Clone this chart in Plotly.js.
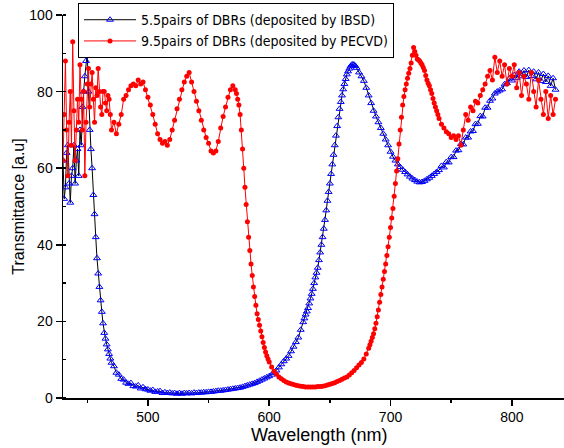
<!DOCTYPE html>
<html><head><meta charset="utf-8">
<script src="https://cdn.plot.ly/plotly-3.0.1.min.js"></script>
<style>html,body{margin:0;padding:0;background:#fff;}#chart{width:564px;height:448px;}</style>
</head><body><div id="chart"></div>
<script>
const ibsdWavelength = [430,431,432,433,434,435,436,437,438,439,440,441,442,443,444,445,446,447,448,449,450,451,452,453,454,455,456,457,458,459,460,461,462,463,464,465,466,467,468,469,470,
472,474,476,478,480,482,484,486,488,490,492,494,496,498,500,502,504,506,508,510,512,514,516,518,520,522,524,526,528,530,532,534,536,538,540,542,544,546,548,550,552,554,556,558,560,562,564,566,568,570,572,574,576,578,580,582,584,586,588,590,592,594,596,598,600,602,604,606,608,610,612,614,616,618,620,622,624,626,628,
629,630,631,632,633,634,635,636,637,638,639,640,641,642,643,644,645,646,647,648,649,650,651,652,653,654,655,656,657,658,659,660,661,662,663,664,665,666,667,668,669,670,671,672,
674,676,678,680,682,684,686,688,690,692,694,696,698,700,702,704,706,708,710,712,714,716,718,720,722,724,726,728,730,732,734,736,738,740,742,744,746,748,750,752,754,756,758,760,762,764,766,768,770,772,774,776,778,780,782,784,786,788,790,792,794,796,798,800,802,804,806,808,810,812,814,816,818,820,822,824,826,828,830,832,834,836];

const ibsdTransmittance = [62,52,55,64,66,56,51,58,60,66,56,62,65,58,70,66,76,80,84,88,90,80,70,65,60,53,48,42,36.5,32.5,29,25.5,22.5,19.5,17,15.5,14,12.7,11.5,10.3,9.2,
8.3,6.6,6.1,5,4.8,4,3.7,3.9,3.1,3.0,3.3,2.5,2.8,2.3,2.2,1.9,2.1,1.6,1.7,1.8,1.3,1.5,1.3,1.4,1.2,1.3,1.1,1.3,1.1,1.3,1.2,1.3,1.2,1.4,1.3,1.4,1.4,1.5,1.5,1.6,1.6,1.7,1.8,1.9,1.9,2.0,2.1,2.2,2.3,2.4,2.5,2.6,2.7,2.9,3.1,3.3,3.5,3.7,3.9,4.2,4.5,4.8,5.1,5.4,5.7,6.1,6.6,7.2,8.0,8.8,9.6,10.3,11.0,12.2,13.4,14.6,15.8,17.8,19.8,
20.8,21.8,22.6,23.5,24.7,26,27.2,28.5,30,31.5,32.7,34,36,38,40,42,44.2,46.5,49,51.5,53.8,56,58.5,61,63.5,66,68.5,71,73.3,75.5,77.3,79,80.6,82,83.3,84.5,85.3,86,86.6,87,87.1,87,86.7,86.2,
85,84,82.8,81,79,77,75,73.5,72,70.5,69,67.5,66,64.3,63,62,61,60.3,59.6,59,58.4,57.8,57.3,56.9,56.5,56.3,56.4,56.7,57.1,57.5,58,58.5,59,59.5,60.6,60.2,61.6,61.5,62.9,62.9,64.6,64.7,66.3,66.2,68,68,69.6,69.7,71.5,71.6,73.6,73.5,75.8,75.8,77.6,78.2,79.5,80,80.3,80.6,81.9,82.2,83.4,82.9,84.3,83.6,85.2,84,85.5,83.8,85.6,84.1,85.2,83.2,85,82.8,84.6,82.5,84.1,81.5,83.5,80.5,82.7];

const pecvdWavelength = [430,431,432,433,434,435,436,437,438,439,440,441,442,443,444,445,446,447,448,449,450,451,452,453,454,455,456,457,458,459,460,461,462,463,464,465,466,467,468,469,470,
472,474,476,478,480,482,484,486,488,490,492,494,496,498,500,502,504,506,508,510,512,514,516,518,520,522,524,526,528,530,532,534,536,538,540,542,544,546,548,550,552,554,556,558,560,562,564,566,568,570,572,
573,574,575,576,577,578,579,580,581,582,583,584,585,586,587,588,589,590,591,592,593,594,595,596,597,598,599,600,
602,604,606,608,610,612,614,616,618,620,622,624,626,628,630,632,634,636,638,640,642,644,646,648,650,652,654,656,658,660,662,664,666,668,670,672,674,676,678,680,682,
683,684,685,686,687,688,689,690,691,692,693,694,695,696,697,698,699,700,701,702,703,704,705,706,707,708,709,710,711,712,713,714,715,716,717,718,719,720,721,722,723,724,725,726,727,728,729,730,731,732,733,734,735,736,737,738,739,740,
742,744,746,748,750,752,754,756,758,760,762,764,766,768,770,772,774,776,778,780,782,784,786,788,790,792,794,796,798,800,802,804,806,808,810,812,814,816,818,820,822,824,826,828,830,832,834,836];

const pecvdTransmittance = [62,74,88,70,58,72,80,66,93,75,62,70,78,72,87,78,70,80,58,72,82,86,76,82,85,78,72,81,79,86,80,76,74,80,80,77,75,79,78,74,70,
72,69,71.5,74,78,79,80.5,81.5,82,81.5,83,82,82.5,80.5,78.5,76.5,74,71.5,69,67.5,66.5,67,66,67.5,70,72.5,75.5,78,80.5,82.5,84,85,82.5,80,77.5,75,72.5,70,68,66.5,64.5,64,64.5,67,70.5,73.5,76,78.5,80.5,81.5,80.5,
79.5,78,76.5,74,70,65,60,55,50.5,46,42,38.5,35,32,29,26.5,24.2,22,20.5,19,17.5,16,14.5,13.2,12,11,10.2,9.4,
8.1,7,6.2,5.5,5,4.6,4.2,3.9,3.7,3.5,3.3,3.2,3.1,3,2.9,2.9,2.9,2.9,2.9,3,3,3.1,3.2,3.4,3.6,3.8,4.0,4.3,4.6,4.9,5.2,5.5,6,6.6,7.2,7.9,8.6,9.3,10.2,11.5,13,
13.9,14.8,15.8,16.8,18.1,19.5,21.2,23,25,27,29,31,33,35,37.2,39.5,42,44.5,47,49.5,52.7,56,59.3,62.5,66.3,70,73.3,76.5,78.7,80.5,82,83.5,84.8,86,87.5,89.5,91.5,90.5,89.5,88.5,88.3,88,87.5,87,86.3,85.5,84.2,83,82.2,81.5,80.5,79.5,78.2,77,76,75,74,73,
71.5,70.5,69.5,69,68,68.5,67.5,68.5,66,70,74,72.5,76,75,77.5,77,79,80.5,82,84,85.5,83,89,85,88,84,87,82,86,84,87,81,85,79,84,82,78,85,80,76,83,78,74,80,73,79,74,78];

const seriesNames = ["5.5pairs of DBRs (deposited by IBSD)", "9.5pairs of DBRs (deposited by PECVD)"];
const xTitle = "Wavelength (nm)";
const yTitle = "Transmittance [a.u]";

const traces = [
  {x: ibsdWavelength, y: ibsdTransmittance, name: seriesNames[0], type: 'scatter', mode: 'lines+markers',
   line: {color: '#000000', width: 1},
   marker: {symbol: 'triangle-up-open', size: 6, color: '#0000ff', line: {width: 1, color: '#0000ff'}}},
  {x: pecvdWavelength, y: pecvdTransmittance, name: seriesNames[1], type: 'scatter', mode: 'lines+markers',
   line: {color: '#ff0000', width: 1},
   marker: {symbol: 'circle', size: 5, color: '#ff0000'}}
];

const axisCommon = {
  showline: true, linecolor: '#000', linewidth: 1.5, mirror: false,
  ticks: 'outside', ticklen: 6, tickwidth: 1.5, tickcolor: '#000',
  showgrid: false, zeroline: false, tickfont: {size: 14, color: '#000'}
};

const layout = {
  width: 564, height: 448,
  margin: {l: 63, r: 0, t: 15, b: 50},
  paper_bgcolor: '#fff', plot_bgcolor: '#fff',
  font: {family: '"Liberation Sans", Arial, sans-serif', size: 14, color: '#000'},
  xaxis: Object.assign({}, axisCommon, {
    range: [430, 843], tick0: 0, dtick: 100,
    minor: {dtick: 50, ticks: 'outside', ticklen: 3, tickwidth: 1.5, tickcolor: '#000', showgrid: false}
  }),
  yaxis: Object.assign({}, axisCommon, {
    range: [0, 100], tick0: 0, dtick: 20,
    minor: {dtick: 10, ticks: 'inside', ticklen: 3, tickwidth: 1.5, tickcolor: '#000', showgrid: false},
    title: {text: yTitle, font: {size: 16, color: '#000'}, standoff: 0}
  }),
  showlegend: true,
  legend: {
    x: 0.03, y: 1.031, xanchor: 'left', yanchor: 'top',
    bordercolor: '#000', borderwidth: 1, bgcolor: '#fff',
    itemwidth: 52, tracegroupgap: 0,
    font: {family: '"DejaVu Sans Condensed", sans-serif', size: 14, color: '#000'}
  },
  annotations: [{
    text: xTitle, xref: 'paper', yref: 'paper', x: 0.51, y: -0.097,
    xanchor: 'center', yanchor: 'middle', showarrow: false,
    font: {size: 18, color: '#000'}
  }]
};

Plotly.newPlot('chart', traces, layout, {displayModeBar: false, staticPlot: true});
</script>
</body></html>
